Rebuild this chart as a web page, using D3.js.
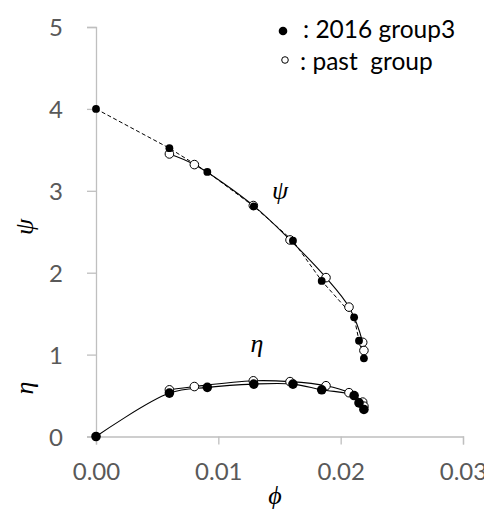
<!DOCTYPE html>
<html><head><meta charset="utf-8">
<script src="https://cdn.jsdelivr.net/npm/d3@7"></script>
<style>body{margin:0;background:#fff}svg{display:block}</style>
</head><body>
<script>
// 2016 group3 (filled)
const newPhi = [0.0, 0.0060, 0.0091, 0.0129, 0.0161, 0.01845, 0.0211, 0.0215, 0.0219];
const newPsi = [4.00, 3.52, 3.23, 2.81, 2.39, 1.90, 1.455, 1.17, 0.955];
const newEta = [0.00, 0.53, 0.60, 0.64, 0.64, 0.57, 0.50, 0.41, 0.33];
// past group (open)
const pastPhi = [0.0060, 0.00804, 0.01286, 0.01586, 0.0188, 0.02068, 0.0218, 0.0219];
const pastPsi = [3.45, 3.32, 2.82, 2.40, 1.94, 1.58, 1.15, 1.05];
const pastEta = [0.57, 0.61, 0.68, 0.67, 0.62, 0.535, 0.42, 0.37];
const xTicks = [0, 0.01, 0.02, 0.03];
const yTicks = [0, 1, 2, 3, 4, 5];
const legendLabels = [": 2016 group3", ": past  group"];

const W = 484, H = 512;
const svg = d3.select("body").append("svg").attr("width", W).attr("height", H);
const x = d3.scaleLinear().domain([0, 0.03]).range([96, 463]);
const y = d3.scaleLinear().domain([0, 5]).range([436.5, 27]);
const axisCol = "#bfbfbf", labCol = "#595959";
const font = "Lato, 'Open Sans', sans-serif";

// axes
const xa = svg.append("g").attr("transform", `translate(0,${y(0)})`)
  .call(d3.axisBottom(x).tickValues(xTicks).tickSize(8).tickFormat(d3.format(".2f")));
const ya = svg.append("g").attr("transform", `translate(${x(0)},0)`)
  .call(d3.axisLeft(y).tickValues(yTicks).tickSize(9).tickFormat(d3.format("d")));
[xa, ya].forEach(g => {
  g.select(".domain").attr("stroke", axisCol).attr("stroke-width", 1.3);
  g.selectAll(".tick line").attr("stroke", axisCol).attr("stroke-width", 1.3);
  g.selectAll(".tick text").attr("fill", labCol).style("font-family", font).style("font-size", "24px");
});
xa.selectAll(".tick text").attr("y", 26);
ya.selectAll(".tick text").attr("x", -33).attr("dy", "0.36em");

const pts = (xs, ys) => xs.map((v, i) => [v, ys[i]]);
const lineLin = d3.line().x(d => x(d[0])).y(d => y(d[1]));
const lineSm = d3.line().x(d => x(d[0])).y(d => y(d[1])).curve(d3.curveCatmullRom.alpha(0.5));

// lines
svg.append("path").attr("d", lineLin(pts(newPhi, newPsi))).attr("fill", "none")
  .attr("stroke", "#000").attr("stroke-width", 1).attr("stroke-dasharray", "4,2.5");
svg.append("path").attr("d", lineSm(pts(pastPhi, pastPsi))).attr("fill", "none")
  .attr("stroke", "#000").attr("stroke-width", 1.1);
svg.append("path").attr("d", lineSm(pts(newPhi, newEta))).attr("fill", "none")
  .attr("stroke", "#000").attr("stroke-width", 1.1);
svg.append("path").attr("d", lineSm(pts(pastPhi, pastEta))).attr("fill", "none")
  .attr("stroke", "#000").attr("stroke-width", 1.1);

// markers: open first, filled on top
const open = (xs, ys) => svg.append("g").selectAll("circle").data(pts(xs, ys)).join("circle")
  .attr("cx", d => x(d[0])).attr("cy", d => y(d[1])).attr("r", 4.3)
  .attr("fill", "#fff").attr("stroke", "#000").attr("stroke-width", 1);
const filled = (xs, ys, r) => svg.append("g").selectAll("circle").data(pts(xs, ys)).join("circle")
  .attr("cx", d => x(d[0])).attr("cy", d => y(d[1])).attr("r", r).attr("fill", "#000");
open(pastPhi, pastPsi);
filled(newPhi, newPsi, 3.9);
open(pastPhi, pastEta);
filled(newPhi, newEta, 4.8);

// curve labels
const serif = "'Liberation Serif', 'DejaVu Serif', serif";
svg.append("text").attr("x", 280).attr("y", 199).attr("text-anchor", "middle")
  .style("font-family", serif).style("font-style", "italic").style("font-size", "26px").text("ψ");
svg.append("text").attr("x", 257).attr("y", 352).attr("text-anchor", "middle")
  .style("font-family", serif).style("font-style", "italic").style("font-size", "26px").text("η");
// axis titles
svg.append("text").attr("transform", "translate(33,227) rotate(-90)").attr("text-anchor", "middle")
  .style("font-family", serif).style("font-style", "italic").style("font-size", "26px").text("ψ");
svg.append("text").attr("transform", "translate(33,388) rotate(-90)").attr("text-anchor", "middle")
  .style("font-family", serif).style("font-style", "italic").style("font-size", "26px").text("η");
svg.append("text").attr("x", 275).attr("y", 504).attr("text-anchor", "middle")
  .style("font-family", serif).style("font-style", "italic").style("font-size", "26px").text("ϕ");

// legend
const lg = svg.append("g");
lg.append("circle").attr("cx", 283).attr("cy", 31).attr("r", 4.3).attr("fill", "#000");
lg.append("circle").attr("cx", 285).attr("cy", 60).attr("r", 3.3).attr("fill", "#fff").attr("stroke", "#000").attr("stroke-width", 1);
lg.selectAll("text").data(legendLabels).join("text")
  .attr("x", (d, i) => i === 0 ? 303 : 300).attr("y", (d, i) => 38 + i * 32)
  .attr("xml:space", "preserve").style("white-space", "pre")
  .style("font-family", font).style("font-size", "24.5px").attr("fill", "#000").text(d => d);
</script>
</body></html>
